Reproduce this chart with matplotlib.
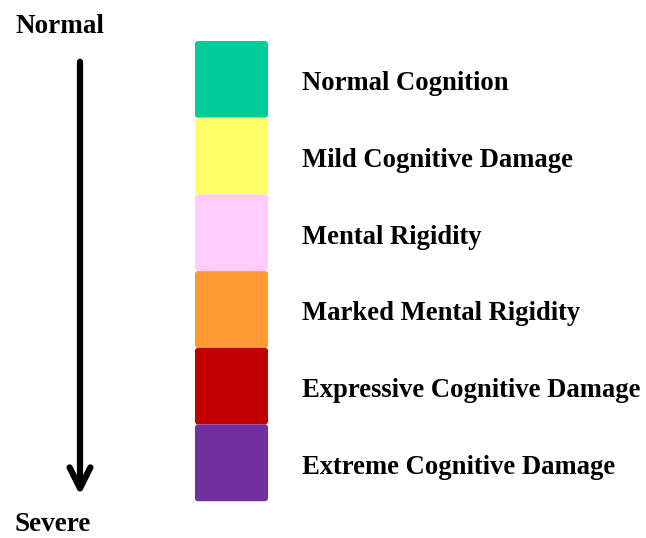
import matplotlib.pyplot as plt
from matplotlib.patches import FancyBboxPatch

plt.rcParams['font.family'] = ['Liberation Serif', 'DejaVu Serif']

# levels, top (normal) to bottom (severe)
levels = ['Normal Cognition', 'Mild Cognitive Damage', 'Mental Rigidity',
          'Marked Mental Rigidity', 'Expressive Cognitive Damage',
          'Extreme Cognitive Damage']
level_colors = ['#00CC99', '#FFFF66', '#FFCCFF', '#FF9933', '#C00000', '#7030A0']
top_label = 'Normal'
bottom_label = 'Severe'

fig = plt.figure(figsize=(6.46, 5.38), dpi=100)
ax = fig.add_axes([0, 0, 1, 1])
ax.set_xlim(0, 646)
ax.set_ylim(538, 0)
ax.axis('off')

# colour scale boxes
box_left, box_w = 195, 73
box_top, box_h = 41, 76.7
for i, (name, col) in enumerate(zip(levels, level_colors)):
    y0 = box_top + i * box_h
    ax.add_patch(FancyBboxPatch((box_left, y0), box_w, box_h,
                                boxstyle='round,pad=0,rounding_size=3',
                                facecolor=col, edgecolor='none'))
    ax.text(302, y0 + box_h / 2 + 11, name, fontsize=19.2, fontweight='bold',
            va='baseline', ha='left')

# severity arrow
ax.annotate('', xy=(80, 498), xytext=(80, 59),
            arrowprops=dict(arrowstyle='->,head_length=1.5,head_width=0.75',
                            lw=4.5, color='black'))
ax.text(15, 33, top_label, fontsize=19.5, fontweight='bold', va='baseline')
ax.text(15, 531, bottom_label, fontsize=19.5, fontweight='bold', va='baseline')

fig.savefig('out.png', dpi=100)
